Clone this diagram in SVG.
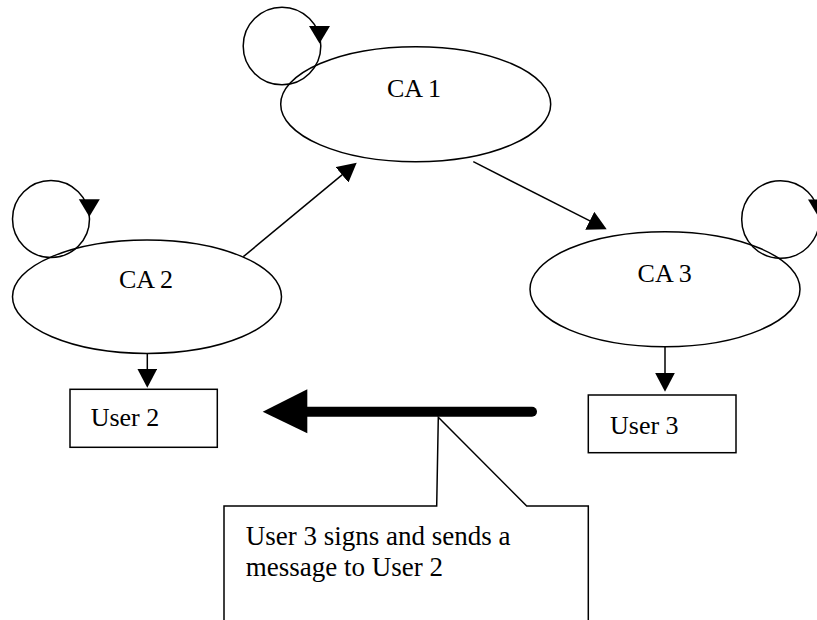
<svg xmlns="http://www.w3.org/2000/svg" width="817" height="620" viewBox="0 0 817 620">
  <style>
    .shape { fill: none; stroke: #000; stroke-width: 1.5; }
    .box { fill: #fff; stroke: #000; stroke-width: 1.5; }
    .edge { fill: none; stroke: #000; stroke-width: 1.5; }
    .label { font-family: "Liberation Serif", "Times New Roman", serif; font-size: 26px; fill: #000; }
    .note { font-family: "Liberation Serif", "Times New Roman", serif; font-size: 27px; fill: #000; }
  </style>
  <defs>
    <marker id="ah" viewBox="0 0 19 20" refX="9" refY="10" markerWidth="19" markerHeight="20" markerUnits="userSpaceOnUse" orient="auto">
      <path d="M0,0 L19,10 L0,20 z" fill="#000"/>
    </marker>
    <!-- downward arrowhead for self-loops, tip at origin -->
    <path id="loopHead" d="M-10.5,-17.5 L10.5,-17.5 L0,0 z" fill="#000"/>
  </defs>

  <rect width="817" height="620" fill="#fff"/>

  <g id="ca1">
    <ellipse class="shape" cx="415.7" cy="104.2" rx="135" ry="57.5"/>
    <text class="label" x="414" y="97" text-anchor="middle">CA 1</text>
  </g>

  <g id="ca2">
    <ellipse class="shape" cx="147" cy="296.7" rx="134.5" ry="56.7"/>
    <text class="label" x="146" y="288.3" text-anchor="middle">CA 2</text>
  </g>

  <g id="ca3">
    <ellipse class="shape" cx="665" cy="289.2" rx="135" ry="57.5"/>
    <text class="label" x="664.7" y="281.7" text-anchor="middle">CA 3</text>
  </g>

  <g id="user2">
    <rect class="box" x="70" y="389.3" width="147.3" height="58"/>
    <text class="label" x="90.7" y="426">User 2</text>
  </g>

  <g id="user3">
    <rect class="box" x="588.3" y="395" width="147.7" height="57.7"/>
    <text class="label" x="610" y="434">User 3</text>
  </g>

  <g id="connectors">
    <!-- self-loops -->
    <circle class="edge" cx="282" cy="46" r="38.8"/>
    <use href="#loopHead" x="319.5" y="43.5"/>
    <circle class="edge" cx="51" cy="219" r="38.5"/>
    <use href="#loopHead" x="89.3" y="216.7"/>
    <circle class="edge" cx="780.5" cy="219.5" r="38.8"/>
    <use href="#loopHead" x="818.5" y="217"/>

    <!-- CA 2 to CA 1 -->
    <line class="edge" x1="243.3" y1="256.7" x2="349" y2="169.1" marker-end="url(#ah)"/>
    <!-- CA 1 to CA 3 -->
    <line class="edge" x1="473.3" y1="161.7" x2="597.8" y2="224.8" marker-end="url(#ah)"/>
    <!-- CA 2 to User 2 -->
    <line class="edge" x1="147.3" y1="353.4" x2="147.3" y2="377.7" marker-end="url(#ah)"/>
    <!-- CA 3 to User 3 -->
    <line class="edge" x1="665" y1="346.7" x2="665" y2="381.7" marker-end="url(#ah)"/>

    <!-- message from User 3 to User 2 -->
    <line x1="307" y1="411.7" x2="532" y2="411.7" stroke="#000" stroke-width="10" stroke-linecap="round"/>
    <polygon points="262.7,411.7 307.3,389.3 307.3,433.3" fill="#000"/>
  </g>

  <g id="callout">
    <path class="box" d="M224,622 L224,506 L436.7,506 L438.3,417.3 L526.7,506 L588.3,506 L588.3,622"/>
    <text class="note" x="245.7" y="545">User 3 signs and sends a</text>
    <text class="note" x="245.7" y="576">message to User 2</text>
  </g>
</svg>
